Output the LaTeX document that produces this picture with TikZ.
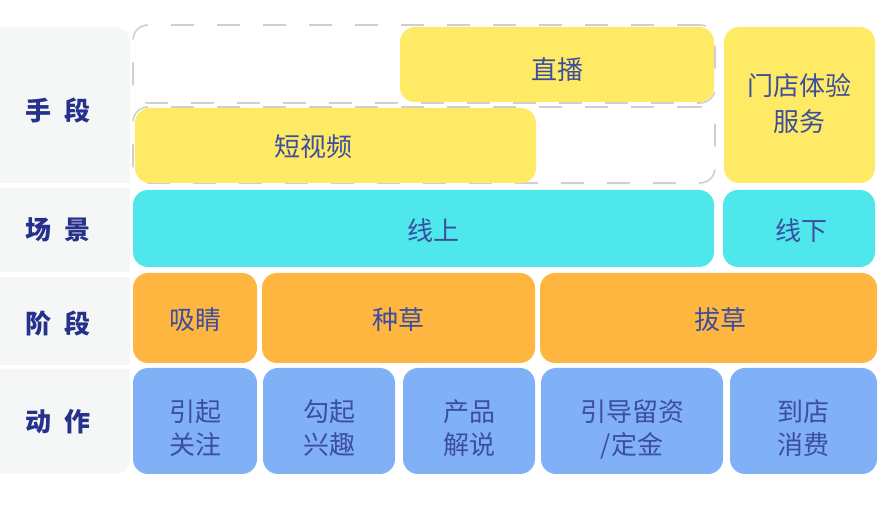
\documentclass[tikz,border=0pt]{standalone}
\usepackage{fontspec}
\setmainfont{Noto Sans CJK SC}
\newfontfamily\cjk{Noto Sans CJK SC}
\definecolor{panelgray}{HTML}{F5F7F7}
\definecolor{dashgray}{HTML}{CFCFCF}
\definecolor{cyellow}{HTML}{FFEA66}
\definecolor{ccyan}{HTML}{4EE8EC}
\definecolor{corange}{HTML}{FFB640}
\definecolor{cblue}{HTML}{80B1F7}
\definecolor{txtblue}{HTML}{3D4E9E}
\definecolor{lblblue}{HTML}{26318C}
\newcommand\tx[2][-4pt]{\raisebox{#1}[\height][\depth]{\begin{tabular}{@{}c@{}}#2\end{tabular}}}
\tikzset{
  box/.style={rounded corners=15pt, inner sep=0pt, align=center,
    font=\cjk\fontsize{26}{33}\selectfont, text=txtblue},
  dashbox/.style={box, draw=dashgray, line width=1.6pt, dash pattern=on 23pt off 23pt, fill=none},
  ybox/.style={box, fill=cyellow},
  cbox/.style={box, fill=ccyan},
  obox/.style={box, fill=corange},
  bbox/.style={box, fill=cblue},
  lbl/.style={font=\cjk\bfseries\fontsize{26}{30}\selectfont, text=lblblue},
}
\begin{document}
\begin{tikzpicture}[x=1pt,y=1pt]
\useasboundingbox (0,0) rectangle (896,524);
% left gray panels
\fill[panelgray] (-20,341) -- (-20,497) -- (115,497) arc[start angle=90,end angle=0,radius=15] -- (130,341) -- cycle;
\fill[panelgray] (-20,252) rectangle (130,336);
\fill[panelgray] (-20,159) rectangle (130,247);
\fill[panelgray] (-20,155) -- (130,155) -- (130,65) arc[start angle=0,end angle=-90,radius=15] -- (-20,50) -- cycle;
% labels
\node[lbl] (l1) at (57.5,414) {手\hspace{13pt}段};
\node[lbl] (l2) at (57.5,294) {场\hspace{13pt}景};
\node[lbl] (l3) at (57.5,201) {阶\hspace{13pt}段};
\node[lbl] (l4) at (57.5,102) {动\hspace{13pt}作};
% row 1
\node[dashbox, minimum width=582pt, minimum height=78pt] (d1) at (424,460) {};
\node[dashbox, minimum width=582pt, minimum height=76pt] (d2) at (424,379) {};
\node[ybox, minimum width=314pt, minimum height=75pt] (zb) at (557,459.5) {\tx[-8pt]{直播}};
\node[ybox, minimum width=401pt, minimum height=75pt] (dsp) at (335.5,378.5) {\tx[-4pt]{短视频}\hspace{44pt}};
\node[ybox, minimum width=151pt, minimum height=156pt] (md) at (799.5,419) {\tx[-2pt]{门店体验\\[3pt]服务}};
% row 2
\node[cbox, minimum width=581pt, minimum height=77pt] (xs) at (423.5,295.5) {\hspace{20pt}\tx[-5pt]{线上}};
\node[cbox, minimum width=152pt, minimum height=77pt] (xx) at (799,295.5) {\hspace{4pt}\tx[-5pt]{线下}};
% row 3
\node[obox, minimum width=124pt, minimum height=90pt] (xj) at (195,206) {\tx[-5pt]{吸睛}};
\node[obox, minimum width=273pt, minimum height=90pt] (zc) at (398.5,206) {\tx[-5pt]{种草}};
\node[obox, minimum width=337pt, minimum height=90pt] (bc) at (708.5,206) {\hspace{24pt}\tx[-5pt]{拔草}};
% row 4
\node[bbox, minimum width=124pt, minimum height=106pt] (yq) at (195,103) {\tx[-10pt]{引起\\关注}};
\node[bbox, minimum width=132pt, minimum height=106pt] (gq) at (329,103) {\tx[-10pt]{勾起\\兴趣}};
\node[bbox, minimum width=132pt, minimum height=106pt] (cp) at (469,103) {\tx[-10pt]{产品\\解说}};
\node[bbox, minimum width=182pt, minimum height=106pt] (yd) at (632,103) {\tx[-10pt]{引导留资\\/定金}};
\node[bbox, minimum width=147pt, minimum height=106pt] (dd) at (803.5,103) {\tx[-10pt]{到店\\消费}};
\end{tikzpicture}
\end{document}
